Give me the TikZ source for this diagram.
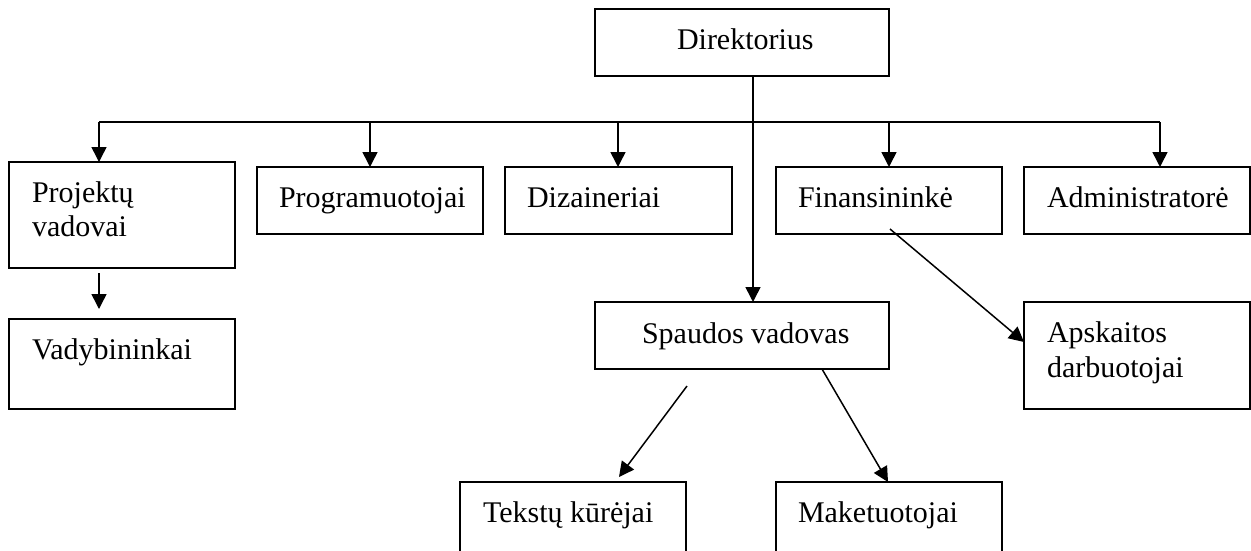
\documentclass[tikz,border=0pt]{standalone}
\usepackage{fontspec}
\setmainfont{Liberation Serif}
\usetikzlibrary{arrows.meta}
\tikzset{
  box/.style={draw, line width=1.8pt, inner sep=0pt, outer sep=0pt, anchor=north west},
  lbl/.style={anchor=base west, inner sep=0pt, outer sep=0pt, font=\fontsize{30}{34}\selectfont},
  link/.style={line width=1.5pt},
  arr/.style={line width=1.5pt, -{Triangle[length=15pt,width=15pt]}}
}
\begin{document}
\begin{tikzpicture}[x=1pt,y=-1pt]
\useasboundingbox (0,0) rectangle (1251,550);
% boxes
\node[box, minimum width=294pt, minimum height=67pt] (dir) at (595,9) {};
\node[box, minimum width=226pt, minimum height=106pt] (pv) at (9,162) {};
\node[box, minimum width=226pt, minimum height=67pt] (prog) at (257,167) {};
\node[box, minimum width=227pt, minimum height=67pt] (diz) at (505,167) {};
\node[box, minimum width=226pt, minimum height=67pt] (fin) at (776,167) {};
\node[box, minimum width=226pt, minimum height=67pt] (adm) at (1024,167) {};
\node[box, minimum width=226pt, minimum height=90pt] (vad) at (9,319) {};
\node[box, minimum width=294pt, minimum height=67pt] (sp) at (595,302) {};
\node[box, minimum width=226pt, minimum height=107pt] (aps) at (1024,302) {};
\node[box, minimum width=226pt, minimum height=80pt] (tek) at (460,482) {};
\node[box, minimum width=226pt, minimum height=80pt] (mak) at (776,482) {};
% labels
\node[lbl] (tdir) at (677,49) {Direktorius};
\node[lbl] (tpv1) at (32,202) {Projektų};
\node[lbl] (tpv2) at (32,236) {vadovai};
\node[lbl] (tprog) at (279,207) {Programuotojai};
\node[lbl] (tdiz) at (527,207) {Dizaineriai};
\node[lbl] (tfin) at (798,207) {Finansininkė};
\node[lbl] (tadm) at (1047,207) {Administratorė};
\node[lbl] (tvad) at (32,359) {Vadybininkai};
\node[lbl] (tsp) at (642,343) {Spaudos vadovas};
\node[lbl] (taps1) at (1047,342) {Apskaitos};
\node[lbl] (taps2) at (1047,377) {darbuotojai};
\node[lbl] (ttek) at (483,522) {Tekstų kūrėjai};
\node[lbl] (tmak) at (798,522) {Maketuotojai};
% bus coordinates
\coordinate (b1) at (99,122);
\coordinate (b2) at (370,122);
\coordinate (b3) at (618,122);
\coordinate (b4) at (889,122);
\coordinate (b5) at (1160,122);
\coordinate (dtop) at (753,76);
% connectors
\draw[arr] (dtop) -- (dtop |- sp.north);
\draw[link] (b1) -- (b5);
\draw[arr] (b1) -- (b1 |- pv.north);
\draw[arr] (b2) -- (b2 |- prog.north);
\draw[arr] (b3) -- (b3 |- diz.north);
\draw[arr] (b4) -- (b4 |- fin.north);
\draw[arr] (b5) -- (b5 |- adm.north);
\coordinate (pvs) at (99,273);
\coordinate (vadn) at (99,309);
\draw[arr] (pvs) -- (vadn);
\coordinate (fins) at (890,229);
\draw[arr] (fins) -- (aps.west |- 0,342);
\coordinate (sps1) at (687,386);
\coordinate (tekn) at (619,477);
\draw[arr] (sps1) -- (tekn);
\coordinate (sps2) at (822,369);
\coordinate (makn) at (888,482);
\draw[arr] (sps2) -- (makn);
\end{tikzpicture}
\end{document}
